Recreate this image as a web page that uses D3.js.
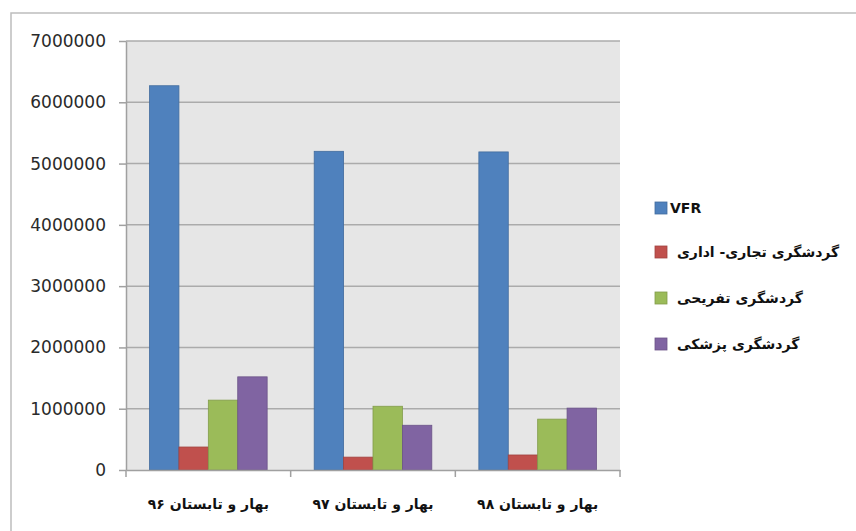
<!DOCTYPE html>
<html>
<head>
<meta charset="utf-8">
<script src="https://cdn.jsdelivr.net/npm/d3@7"></script>
<style>
  body { margin: 0; background: #fff; }
  text { font-family: "DejaVu Sans", sans-serif; }
</style>
</head>
<body>
<script>
// Chart data
const categories = ["بهار و تابستان ۹۶", "بهار و تابستان ۹۷", "بهار و تابستان ۹۸"];
const seriesNames = ["VFR", "گردشگری تجاری- اداری", "گردشگری تفریحی", "گردشگری پزشکی"];
const vfr = [6270000, 5200000, 5190000];
const business = [375000, 210000, 245000];
const leisure = [1140000, 1040000, 830000];
const medical = [1520000, 730000, 1010000];
const yTicks = [0, 1000000, 2000000, 3000000, 4000000, 5000000, 6000000, 7000000];
const colors = ["#4f81bd", "#c0504d", "#9bbb59", "#8064a2"];

const svgWidth = 856;
const svgHeight = 531;

// Plot area
const margin = { top: 41, right: 236, bottom: 61, left: 126 };
const chartWidth = svgWidth - margin.left - margin.right;
const chartHeight = svgHeight - margin.top - margin.bottom;

const svg = d3.select("body")
  .append("svg")
  .attr("width", svgWidth)
  .attr("height", svgHeight);

// outer chart border
svg.append("rect")
  .attr("x", 11).attr("y", 13)
  .attr("width", svgWidth + 10).attr("height", svgHeight + 10)
  .attr("fill", "none")
  .attr("stroke", "#bdbdbd")
  .attr("stroke-width", 1.5);

const chartGroup = svg.append("g")
  .attr("transform", `translate(${margin.left}, ${margin.top})`);

const xScale = d3.scaleBand()
  .domain(categories)
  .range([0, chartWidth]);

const xInner = d3.scaleBand()
  .domain(seriesNames)
  .range([0, xScale.bandwidth()])
  .paddingOuter(0.8);

const yScale = d3.scaleLinear()
  .domain([0, 7000000])
  .range([chartHeight, 0]);

// plot background
chartGroup.append("rect")
  .attr("width", chartWidth)
  .attr("height", chartHeight)
  .attr("fill", "#e6e6e6");

// gridlines
chartGroup.append("g")
  .selectAll("line")
  .data(yTicks.slice(1))
  .join("line")
  .attr("x1", 0).attr("x2", chartWidth)
  .attr("y1", d => yScale(d)).attr("y2", d => yScale(d))
  .attr("stroke", "#ababab")
  .attr("stroke-width", 1.5);

// bars
const seriesValues = [vfr, business, leisure, medical];
const rows = [];
categories.forEach((c, i) => {
  seriesNames.forEach((s, j) => {
    rows.push({ category: c, series: s, value: seriesValues[j][i], color: colors[j] });
  });
});

chartGroup.append("g")
  .selectAll("rect")
  .data(rows)
  .join("rect")
  .attr("x", d => xScale(d.category) + xInner(d.series))
  .attr("y", d => yScale(d.value))
  .attr("width", xInner.bandwidth())
  .attr("height", d => chartHeight - yScale(d.value))
  .attr("fill", d => d.color)
  .attr("stroke", d => d3.color(d.color).darker(0.5))
  .attr("stroke-width", 0.8);

// axes
const leftAxis = d3.axisLeft(yScale)
  .tickValues(yTicks)
  .tickFormat(d3.format("d"))
  .tickSizeInner(7)
  .tickSizeOuter(0)
  .tickPadding(13);

const yAxis = chartGroup.append("g").call(leftAxis);
yAxis.select(".domain").attr("stroke", "#a0a0a0").attr("stroke-width", 1.5);
yAxis.selectAll(".tick line").attr("stroke", "#a0a0a0").attr("stroke-width", 1.5);
yAxis.selectAll(".tick text")
  .attr("fill", "#2a2a2a")
  .style("font-size", "17px");

const bottomAxis = d3.axisBottom(xScale).tickSize(0).tickPadding(0);
const xAxis = chartGroup.append("g")
  .attr("transform", `translate(0, ${chartHeight})`)
  .call(bottomAxis);
xAxis.select(".domain").attr("stroke", "#a0a0a0").attr("stroke-width", 1.5);
xAxis.selectAll(".tick text")
  .attr("y", 29)
  .attr("fill", "#111")
  .attr("font-weight", "bold")
  .style("font-size", "14px");

// category separators on x axis
xAxis.append("g")
  .selectAll("line")
  .data(d3.range(categories.length + 1))
  .join("line")
  .attr("x1", i => i * xScale.step())
  .attr("x2", i => i * xScale.step())
  .attr("y1", 0).attr("y2", 7)
  .attr("stroke", "#a0a0a0")
  .attr("stroke-width", 1.5);

// legend
const legendY = [208, 252, 298, 344];
const legend = svg.append("g")
  .selectAll("g")
  .data(seriesNames)
  .join("g")
  .attr("transform", (d, i) => `translate(655, ${legendY[i]})`);

legend.append("rect")
  .attr("x", 0).attr("y", -6)
  .attr("width", 12).attr("height", 12)
  .attr("fill", (d, i) => colors[i])
  .attr("stroke", (d, i) => d3.color(colors[i]).darker(0.5))
  .attr("stroke-width", 0.8);

legend.append("text")
  .attr("x", (d, i) => i === 0 ? 15 : 22)
  .attr("dy", "0.35em")
  .attr("fill", "#111")
  .attr("font-weight", "bold")
  .style("font-size", "14px")
  .style("direction", "ltr")
  .text(d => d);
</script>
</body>
</html>
